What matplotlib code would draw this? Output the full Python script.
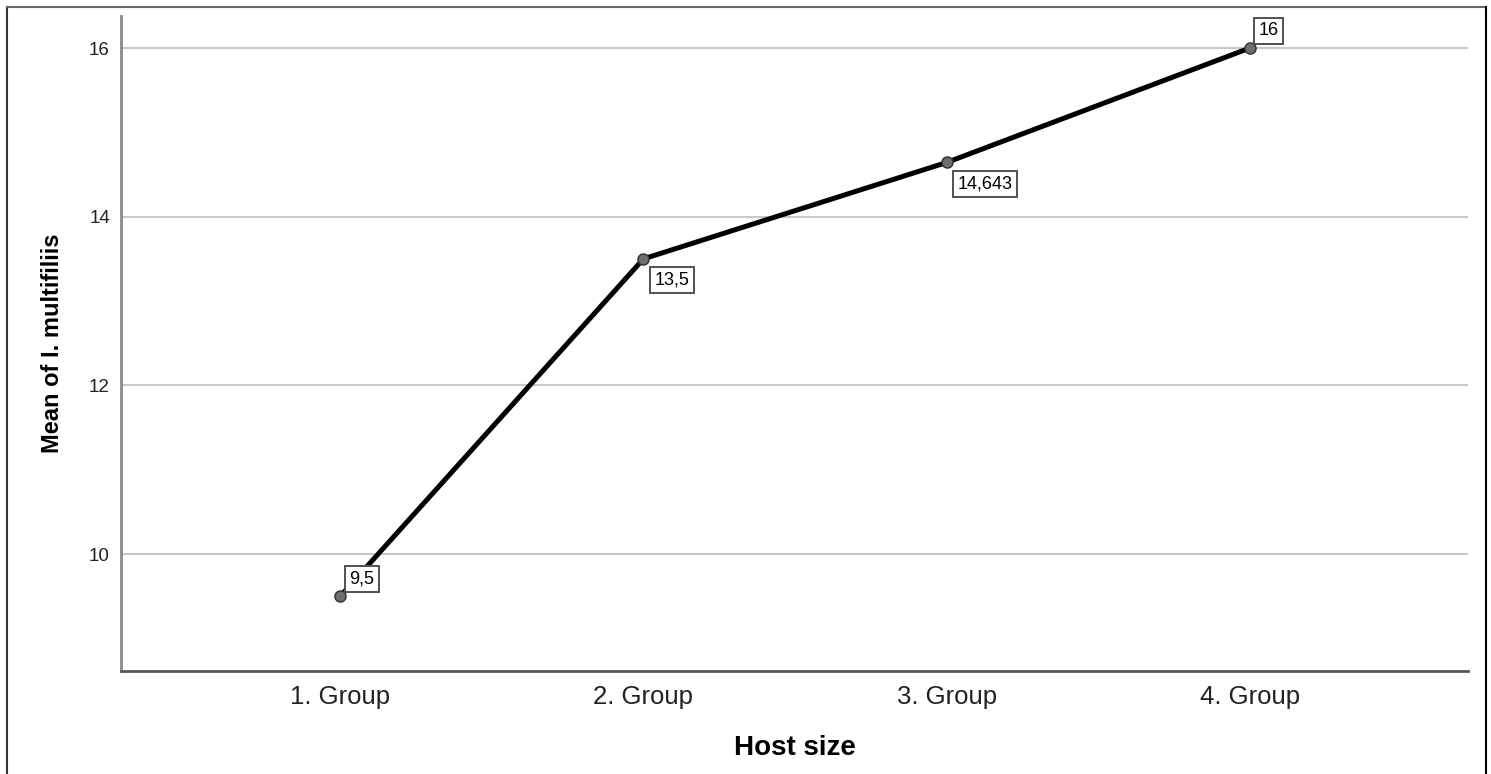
import matplotlib.pyplot as plt
from matplotlib.lines import Line2D

groups = ["1. Group", "2. Group", "3. Group", "4. Group"]
means = [9.5, 13.5, 14.643, 16.0]
value_labels = ["9,5", "13,5", "14,643", "16"]
# label placement: above-right or below-right of each point
label_side = ["up", "down", "down", "up"]
y_ticks = [10, 12, 14, 16]

plt.rcParams['font.family'] = ['Liberation Sans', 'DejaVu Sans']

fig = plt.figure(figsize=(14.91, 7.74), dpi=100)
ax = fig.add_axes([0.0812, 0.1331, 0.9034, 0.8462])

x = list(range(len(groups)))
ax.plot(x, means, color="black", linewidth=3.6, zorder=3)
ax.plot(x, means, linestyle="none", marker="o", markersize=8,
        markerfacecolor="#6e6e6e", markeredgecolor="#303030",
        markeredgewidth=1.0, zorder=4)

for xi, yi, lab, side in zip(x, means, value_labels, label_side):
    if side == "up":
        off, va = (9, 9), "bottom"
    else:
        off, va = (11, -13), "top"
    ax.annotate(lab, (xi, yi), xytext=off, textcoords="offset pixels",
                ha="left", va=va, fontsize=13, color="black", zorder=5,
                bbox=dict(boxstyle="square,pad=0.25", facecolor="white",
                          edgecolor="#505050", linewidth=1.4))

ax.set_xlim(-0.723, 3.72)
ax.set_ylim(8.613, 16.38)
ax.set_xticks(x)
ax.set_xticklabels(groups, fontsize=18.5, color="#222222")
ax.set_yticks(y_ticks)
ax.set_yticklabels([str(t) for t in y_ticks], fontsize=13.5, color="#222222")
ax.tick_params(length=0, pad=8)
ax.tick_params(axis="x", pad=10)

ax.yaxis.grid(True, color="#c8c8c8", linewidth=1.5)
ax.set_axisbelow(True)

for s in ["top", "right"]:
    ax.spines[s].set_visible(False)
ax.spines["left"].set_color("#8a8a8a")
ax.spines["left"].set_linewidth(2)
ax.spines["bottom"].set_color("#555555")
ax.spines["bottom"].set_linewidth(2)

ax.set_xlabel("Host size", fontsize=20, fontweight="bold", labelpad=19)
ax.set_ylabel("Mean of I. multifiliis", fontsize=17, fontweight="bold", labelpad=18)

# outer frame (left, top, right)
fig.add_artist(Line2D([7 / 1491, 7 / 1491], [0, 1 - 7 / 774], color="#333333", linewidth=1.5))
fig.add_artist(Line2D([7 / 1491, 1486 / 1491], [1 - 7 / 774, 1 - 7 / 774], color="#666666", linewidth=1.5))
fig.add_artist(Line2D([1486 / 1491, 1486 / 1491], [0, 1 - 7 / 774], color="black", linewidth=1.5))

fig.savefig("out.png", dpi=100)
